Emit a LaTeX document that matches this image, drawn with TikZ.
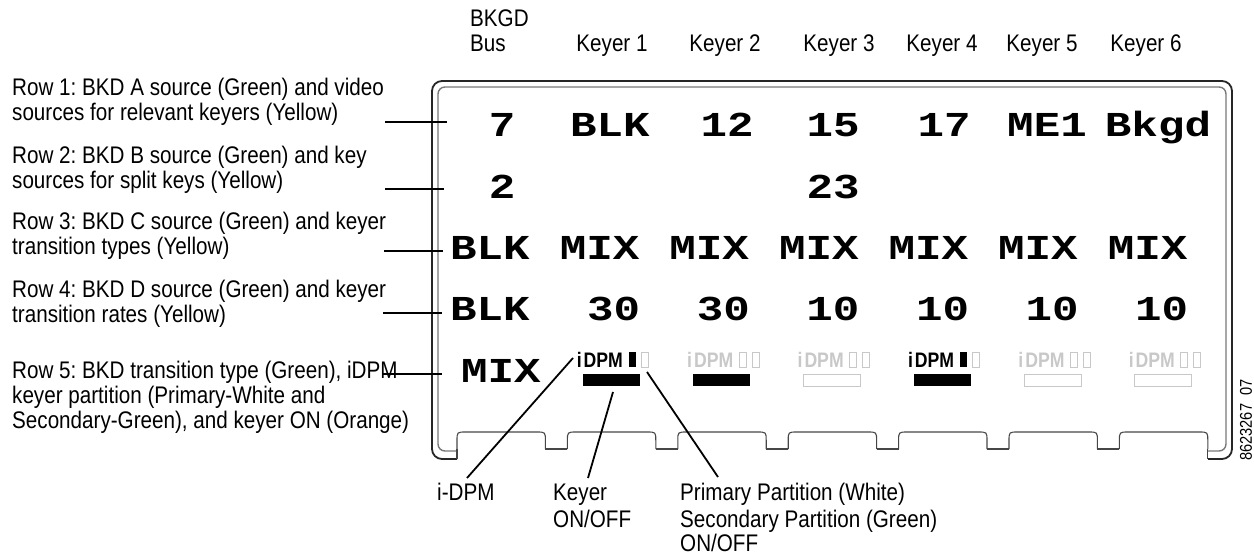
\documentclass[tikz,border=0pt]{standalone}
\usepackage{fontspec}
\setmainfont[FakeStretch=0.86]{Liberation Sans}
\newfontfamily\dispfont[FakeStretch=1.262]{Liberation Mono}
\newfontfamily\idpmfont[FakeStretch=0.84]{Liberation Sans}
\definecolor{lgray}{RGB}{200,200,200}
\definecolor{fgray}{RGB}{120,120,120}
\definecolor{tabgray}{RGB}{70,70,70}
\frenchspacing
\begin{document}
\begin{tikzpicture}[x=1pt,y=-1pt,
  lab/.style={font=\fontsize{24}{26}\selectfont, inner sep=0pt, anchor=base west},
  hdr/.style={font=\fontsize{24}{26}\selectfont, inner sep=0pt, anchor=base},
  disp/.style={font=\dispfont\bfseries\fontsize{35}{35}\selectfont, inner sep=0pt, anchor=base},
  idpmon/.style={font=\idpmfont\bfseries\fontsize{21}{21}\selectfont, inner sep=0pt, anchor=base west, text=black},
  idpmoff/.style={idpmon, text=lgray},
  leader/.style={line width=2.4pt, black},
  callout/.style={line width=1.8pt, black},
  outerframe/.style={line width=1.8pt, black!85},
  innerframe/.style={line width=1.4pt, fgray},
  tabline/.style={line width=1.1pt, tabgray}
]
\useasboundingbox (0,0) rectangle (1254,556);

% ---------- header ----------
\node[lab] (hb1) at (470,27) {BKGD};
\node[lab] (hb2) at (470,52) {Bus};
\node[hdr] (h1) at (612,52) {Keyer 1};
\node[hdr] (h2) at (725,52) {Keyer 2};
\node[hdr] (h3) at (839,52) {Keyer 3};
\node[hdr] (h4) at (942,52) {Keyer 4};
\node[hdr] (h5) at (1042,52) {Keyer 5};
\node[hdr] (h6) at (1146,52) {Keyer 6};

% ---------- frame ----------
\draw[outerframe, rounded corners=10pt] (457,459) -- (432,459) -- (432,81) -- (1232,81) -- (1232,459) -- (1208,459);
\draw[innerframe, rounded corners=7pt] (457,451) -- (438,451) -- (438,87) -- (1226,87) -- (1226,451) -- (1208,451);
\foreach \k in {0,...,6}{
  \pgfmathsetmacro{\xa}{457+110.4*\k}
  \pgfmathsetmacro{\xb}{\xa+88.4}
  \draw[tabline] (\xa,449) -- (\xa,441) .. controls (\xa,432) .. (\xa+9,432) -- (\xb-9,432) .. controls (\xb,432) .. (\xb,441) -- (\xb,449);
}
\foreach \k in {0,...,5}{
  \pgfmathsetmacro{\xb}{457+110.4*\k+88.4}
  \draw[tabline] (\xb,449) -- (\xb+22,449);
}
\draw[tabline] (457,449) -- (457,459);
\draw[tabline] (1207.8,449) -- (1207.8,459);

% ---------- display rows ----------
\node[disp] (d10) at (502,137) {7};
\node[disp] (d11) at (610,137) {BLK};
\node[disp] (d12) at (727,137) {12};
\node[disp] (d13) at (833,137) {15};
\node[disp] (d14) at (944,137) {17};
\node[disp] (d15) at (1047,137) {ME1};
\node[disp] (d16) at (1158,137) {Bkgd};

\node[disp] (d20) at (502,198.5) {2};
\node[disp] (d23) at (833,198.5) {23};

\def\gx#1{450+27.4*#1}
\node[disp, anchor=base west] (d30) at (\gx{0},259.75) {BLK};
\node[disp, anchor=base west] (d31) at (\gx{4},259.75) {MIX};
\node[disp, anchor=base west] (d32) at (\gx{8},259.75) {MIX};
\node[disp, anchor=base west] (d33) at (\gx{12},259.75) {MIX};
\node[disp, anchor=base west] (d34) at (\gx{16},259.75) {MIX};
\node[disp, anchor=base west] (d35) at (\gx{20},259.75) {MIX};
\node[disp, anchor=base west] (d36) at (\gx{24},259.75) {MIX};

\node[disp, anchor=base west] (d40) at (\gx{0},321) {BLK};
\node[disp, anchor=base west] (d41) at (\gx{5},321) {30};
\node[disp, anchor=base west] (d42) at (\gx{9},321) {30};
\node[disp, anchor=base west] (d43) at (\gx{13},321) {10};
\node[disp, anchor=base west] (d44) at (\gx{17},321) {10};
\node[disp, anchor=base west] (d45) at (\gx{21},321) {10};
\node[disp, anchor=base west] (d46) at (\gx{25},321) {10};

\node[disp] (d50) at (501,382) {MIX};

% ---------- iDPM indicators ----------
\def\cB{611.6}\def\cC{722.0}\def\cD{832.4}\def\cE{942.8}\def\cF{1053.2}\def\cG{1163.6}
% keyer 1
\node[idpmon] (i1) at (\cB-35,367) {i\kern2pt DPM};
\fill[black] (\cB+17,352) rectangle (\cB+24,367);
\draw[lgray, line width=0.8pt] (\cB+30,352) rectangle (\cB+37,367);
\fill[black] (\cB-29,374) rectangle (\cB+28,386);
% keyer 2
\node[idpmoff] (i2) at (\cC-35,367) {i\kern2pt DPM};
\draw[lgray, line width=0.8pt] (\cC+17,352) rectangle (\cC+24,367);
\draw[lgray, line width=0.8pt] (\cC+30,352) rectangle (\cC+37,367);
\fill[black] (\cC-29,374) rectangle (\cC+28,386);
% keyer 3
\node[idpmoff] (i3) at (\cD-35,367) {i\kern2pt DPM};
\draw[lgray, line width=0.8pt] (\cD+17,352) rectangle (\cD+24,367);
\draw[lgray, line width=0.8pt] (\cD+30,352) rectangle (\cD+37,367);
\draw[lgray, line width=0.9pt] (\cD-29,374) rectangle (\cD+28,386);
% keyer 4
\node[idpmon] (i4) at (\cE-35,367) {i\kern2pt DPM};
\fill[black] (\cE+17,352) rectangle (\cE+24,367);
\draw[lgray, line width=0.8pt] (\cE+30,352) rectangle (\cE+37,367);
\fill[black] (\cE-29,374) rectangle (\cE+28,386);
% keyer 5
\node[idpmoff] (i5) at (\cF-35,367) {i\kern2pt DPM};
\draw[lgray, line width=0.8pt] (\cF+17,352) rectangle (\cF+24,367);
\draw[lgray, line width=0.8pt] (\cF+30,352) rectangle (\cF+37,367);
\draw[lgray, line width=0.9pt] (\cF-29,374) rectangle (\cF+28,386);
% keyer 6
\node[idpmoff] (i6) at (\cG-35,367) {i\kern2pt DPM};
\draw[lgray, line width=0.8pt] (\cG+17,352) rectangle (\cG+24,367);
\draw[lgray, line width=0.8pt] (\cG+30,352) rectangle (\cG+37,367);
\draw[lgray, line width=0.9pt] (\cG-29,374) rectangle (\cG+28,386);

% ---------- row labels ----------
\node[lab] (r1a) at (12,96) {Row 1: BKD A source (Green) and video};
\node[lab] (r1b) at (12,121) {sources for relevant keyers (Yellow)};
\node[lab] (r2a) at (12,164) {Row 2: BKD B source (Green) and key};
\node[lab] (r2b) at (12,189) {sources for split keys (Yellow)};
\node[lab] (r3a) at (12,230) {Row 3: BKD C source (Green) and keyer};
\node[lab] (r3b) at (12,255) {transition types (Yellow)};
\node[lab] (r4a) at (12,298) {Row 4: BKD D source (Green) and keyer};
\node[lab] (r4b) at (12,323) {transition rates (Yellow)};
\node[lab] (r5a) at (12,378) {Row 5: BKD transition type (Green), iDPM};
\node[lab] (r5b) at (12,403) {keyer partition (Primary-White and};
\node[lab] (r5c) at (12,428) {Secondary-Green), and keyer ON (Orange)};

\coordinate (l1s) at (385,122); \coordinate (l1e) at (447,122);
\coordinate (l2s) at (385,189); \coordinate (l2e) at (444,189);
\coordinate (l3s) at (384,251); \coordinate (l3e) at (443,251);
\coordinate (l4s) at (383,313); \coordinate (l4e) at (442,313);
\coordinate (l5s) at (383,374); \coordinate (l5e) at (442,374);
\draw[leader] (l1s) -- (l1e);
\draw[leader] (l2s) -- (l2e);
\draw[leader] (l3s) -- (l3e);
\draw[leader] (l4s) -- (l4e);
\draw[leader] (l5s) -- (l5e);

% ---------- bottom callouts ----------
\node[lab] (cidpm) at (437,500) {i-DPM};
\node[lab] (ckey1) at (553,500) {Keyer};
\node[lab] (ckey2) at (553,527) {ON/OFF};
\node[lab] (cpp1) at (680,500) {Primary Partition (White)};
\node[lab] (cpp2) at (680,527) {Secondary Partition (Green)};
\node[lab] (cpp3) at (680,551) {ON/OFF};

\coordinate (ti) at (573,358);
\coordinate (tk) at (613,392);
\coordinate (tp) at (647,372);
\coordinate (bi) at (467,478);
\coordinate (bk) at (588,478);
\coordinate (bp) at (718,477);
\draw[callout] (ti) -- (bi);
\draw[callout] (tk) -- (bk);
\draw[callout] (tp) -- (bp);

% ---------- figure number ----------
\node[rotate=90, font=\fontsize{17}{17}\selectfont, inner sep=0pt] (fig) at (1246,420) {8623267\ \ 07};
\end{tikzpicture}
\end{document}
